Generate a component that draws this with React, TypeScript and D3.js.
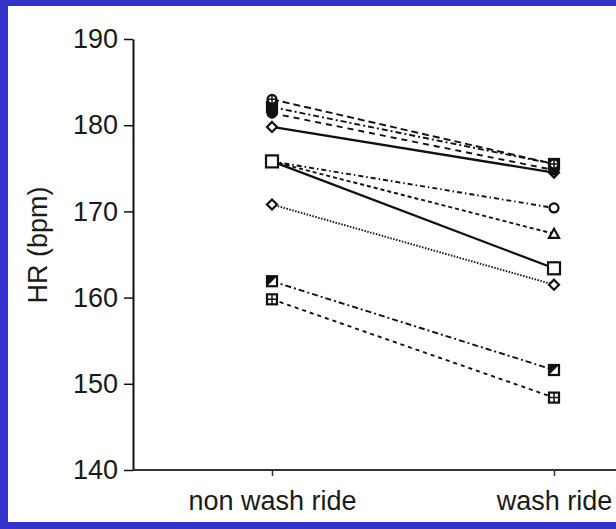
import React, { useEffect, useRef } from 'react';
import * as d3 from 'd3';

// Heart rate per subject, non wash ride vs wash ride
const conditions = ['non wash ride', 'wash ride'];
const nonWashHR = [183, 182.1, 181.4, 179.8, 175.8, 175.8, 175.8, 170.8, 161.9, 159.8];
const washHR = [175.5, 175.5, 174.8, 174.5, 163.4, 170.4, 167.4, 161.5, 151.6, 148.4];
const yTicks = [140, 150, 160, 170, 180, 190];

// line style + marker per subject
const dashes = ['7,4', '6,3,2,3', '6,5', null, null, '5,3,1.5,3', '4,3', '1.5,1.5', '6,3,2,3', '4,4'];
const markers = ['circlePlus', 'filledSquare', 'filledCircle', 'diamond', 'square', 'circle', 'triangle', 'diamond', 'halfSquare', 'plusSquare'];

const W = 616;
const H = 529;
const font = '"Liberation Sans", Arial, sans-serif';

const App = () => {
    const svgRef = useRef<SVGSVGElement>(null);

    useEffect(() => {
        const svg = d3.select(svgRef.current);
        svg.selectAll('*').remove();

        // blue slide frame
        svg.append('rect').attr('width', W).attr('height', H).attr('fill', '#3333cc');
        svg.append('rect').attr('x', 8).attr('y', 6).attr('width', W - 8).attr('height', H - 13).attr('fill', '#fff');

        const x = d3.scalePoint().domain(conditions).range([272, 554]);
        const y = d3.scaleLinear().domain([140, 190]).range([470, 39]);

        const data = nonWashHR.map((v, i) => ({ a: v, b: washHR[i], i }));

        // lines
        svg.append('g')
            .selectAll('line')
            .data(data)
            .join('line')
            .attr('x1', x(conditions[0])!)
            .attr('x2', x(conditions[1])!)
            .attr('y1', d => y(d.a))
            .attr('y2', d => y(d.b))
            .attr('stroke', '#111')
            .attr('stroke-width', d => (dashes[d.i] ? 1.9 : 2.3))
            .attr('stroke-dasharray', d => dashes[d.i]);

        // markers
        const drawMarker = (g, kind, cx, cy) => {
            const s = kind === 'square' ? 12 : 10;
            const h = s / 2;
            const p = g.append('g').attr('transform', `translate(${cx},${cy})`);
            const base = { stroke: '#111', 'stroke-width': 2.2, fill: '#fff' };
            const apply = (sel, attrs) => { Object.entries(attrs).forEach(([k, v]) => sel.attr(k, v)); return sel; };
            if (kind.includes('ircle')) {
                apply(p.append('circle').attr('r', h - 0.5), { ...base, fill: kind === 'filledCircle' ? '#111' : '#fff' });
            } else if (kind === 'diamond') {
                apply(p.append('path').attr('d', `M0,${-h}L${h},0L0,${h}L${-h},0Z`), base);
            } else if (kind === 'triangle') {
                apply(p.append('path').attr('d', `M0,${-h}L${h},${h - 1}L${-h},${h - 1}Z`), base);
            } else {
                apply(p.append('rect').attr('x', -h).attr('y', -h).attr('width', s).attr('height', s), { ...base, fill: kind === 'filledSquare' ? '#111' : '#fff' });
            }
            if (kind === 'halfSquare') {
                p.append('path').attr('d', `M${-h},${-h}L${h},${-h}L${-h},${h}Z`).attr('fill', '#111');
            }
            if (kind === 'circlePlus' || kind === 'plusSquare') {
                p.append('path').attr('d', `M${-h},0H${h}M0,${-h}V${h}`).attr('stroke', '#111').attr('stroke-width', 1.5);
            }
        };

        const mg = svg.append('g');
        // draw from bottom of the stack so top markers stay visible
        data.slice().reverse().forEach(d => {
            drawMarker(mg, markers[d.i], x(conditions[0])!, y(d.a));
            drawMarker(mg, markers[d.i], x(conditions[1])!, y(d.b));
        });

        // y axis
        const yAxis = svg.append('g')
            .attr('transform', 'translate(133,0)')
            .call(d3.axisLeft(y).tickValues(yTicks).tickSize(9).tickPadding(6).tickSizeOuter(0));
        yAxis.select('.domain').attr('stroke', '#111').attr('stroke-width', 2);
        yAxis.selectAll('.tick line').attr('stroke', '#111').attr('stroke-width', 1.5);
        yAxis.selectAll('text').attr('font-family', font).attr('font-size', 27).attr('fill', '#1a1a1a');

        // x axis
        const xAxis = svg.append('g')
            .attr('transform', 'translate(0,470)')
            .call(d3.axisBottom(x).tickSize(6).tickPadding(15).tickSizeOuter(0));
        xAxis.select('.domain').attr('d', `M133,0H${W}`).attr('stroke', '#333').attr('stroke-width', 2);
        xAxis.selectAll('.tick line').attr('stroke', '#333').attr('stroke-width', 1.5);
        xAxis.selectAll('text').attr('font-family', font).attr('font-size', 27).attr('fill', '#1a1a1a');

        // y title
        svg.append('text')
            .attr('transform', 'translate(47,245) rotate(-90)')
            .attr('text-anchor', 'middle')
            .attr('font-family', font)
            .attr('font-size', 27)
            .attr('fill', '#1a1a1a')
            .text('HR (bpm)');
    }, []);

    return (
        <svg ref={svgRef} width={W} height={H} style={{ position: 'absolute', left: 0, top: 0 }}></svg>
    );
};

export default App;
